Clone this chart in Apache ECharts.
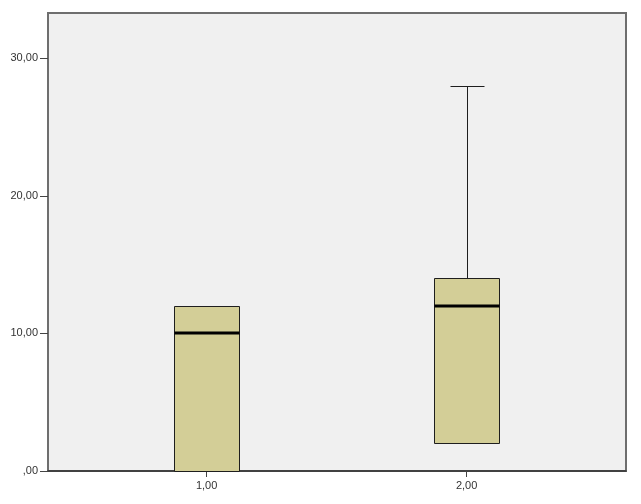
<!DOCTYPE html>
<html>
<head>
<meta charset="utf-8">
<script src="https://cdn.jsdelivr.net/npm/echarts@6/dist/echarts.min.js"></script>
<style>
html,body{margin:0;padding:0;background:#fff;}
#chart{width:641px;height:504px;}
</style>
</head>
<body>
<div id="chart"></div>
<script>
// ---- data ----
const groups = [1, 2];
const groupLabels = ['1,00', '2,00'];
const whiskerLow = [0, 2];
const quartile1 = [0, 2];
const medians = [10, 12];
const quartile3 = [12, 14];
const whiskerHigh = [12, 28];
const yTicks = [0, 10, 20, 30];
const yTickLabels = [',00', '10,00', '20,00', '30,00'];

// ---- style constants ----
const BOX_W = 65;
const CAP_W = 34;
const FILL = '#d3ce97';
const FONT = '"Liberation Sans", Arial, sans-serif';

const boxData = groups.map((g, i) => [g, whiskerLow[i], quartile1[i], medians[i], quartile3[i], whiskerHigh[i]]);

function crisp(v) { return Math.round(v) + 0.5; }

function renderBox(params, api) {
  const x = api.value(0);
  const pLow = api.coord([x, api.value(1)]);
  const pQ1 = api.coord([x, api.value(2)]);
  const pMed = api.coord([x, api.value(3)]);
  const pQ3 = api.coord([x, api.value(4)]);
  const pHigh = api.coord([x, api.value(5)]);
  const cx = crisp(pQ1[0]);
  const left = Math.round(pQ1[0] - BOX_W / 2) + 0.5;
  const right = left + BOX_W;
  const line = '#1e1e1e';
  const children = [];
  // whiskers
  if (pHigh[1] < pQ3[1]) {
    children.push({ type: 'line', shape: { x1: cx, y1: crisp(pQ3[1]), x2: cx, y2: crisp(pHigh[1]) }, style: { stroke: line, lineWidth: 1 } });
  }
  if (pLow[1] > pQ1[1]) {
    children.push({ type: 'line', shape: { x1: cx, y1: crisp(pQ1[1]), x2: cx, y2: crisp(pLow[1]) }, style: { stroke: line, lineWidth: 1 } });
  }
  // box
  children.push({ type: 'rect', shape: { x: left, y: crisp(pQ3[1]), width: BOX_W, height: Math.round(pQ1[1]) - Math.round(pQ3[1]) }, style: { fill: FILL, stroke: line, lineWidth: 1 } });
  // median
  children.push({ type: 'line', shape: { x1: left, y1: Math.round(pMed[1]), x2: right, y2: Math.round(pMed[1]) }, style: { stroke: '#000', lineWidth: 3 } });
  // caps
  [pHigh, pLow].forEach(p => {
    children.push({ type: 'line', shape: { x1: cx - CAP_W / 2, y1: crisp(p[1]), x2: cx + CAP_W / 2, y2: crisp(p[1]) }, style: { stroke: line, lineWidth: 1 } });
  });
  return { type: 'group', children: children };
}

const chart = echarts.init(document.getElementById('chart'), null, { renderer: 'canvas' });
chart.setOption({
  animation: false,
  backgroundColor: '#ffffff',
  grid: {
    left: 48, top: 13, right: 15, bottom: 33,
    show: true, backgroundColor: '#f0f0f0', borderColor: '#6e6e6e', borderWidth: 2
  },
  xAxis: {
    type: 'value', min: 0.39, max: 2.613,
    splitLine: { show: false },
    axisLine: { show: true, onZero: false, lineStyle: { color: '#333', width: 1.5 } },
    axisTick: { show: true, length: 6, customValues: groups, lineStyle: { color: '#444' } },
    axisLabel: {
      customValues: groups, margin: 9, color: '#333', fontSize: 11, fontFamily: FONT,
      formatter: v => groupLabels[groups.indexOf(v)] || ''
    }
  },
  yAxis: {
    type: 'value', min: 0, max: 33.3,
    splitLine: { show: false },
    axisLine: { show: true, lineStyle: { color: '#6e6e6e', width: 2 } },
    axisTick: { show: true, length: 8, customValues: yTicks, lineStyle: { color: '#444' } },
    axisLabel: {
      customValues: yTicks, margin: 10, color: '#333', fontSize: 11, fontFamily: FONT,
      formatter: v => yTickLabels[yTicks.indexOf(v)] || ''
    }
  },
  series: [{
    type: 'custom',
    renderItem: renderBox,
    encode: { x: 0, y: [1, 2, 3, 4, 5] },
    data: boxData,
    clip: false
  }]
});
</script>
</body>
</html>
